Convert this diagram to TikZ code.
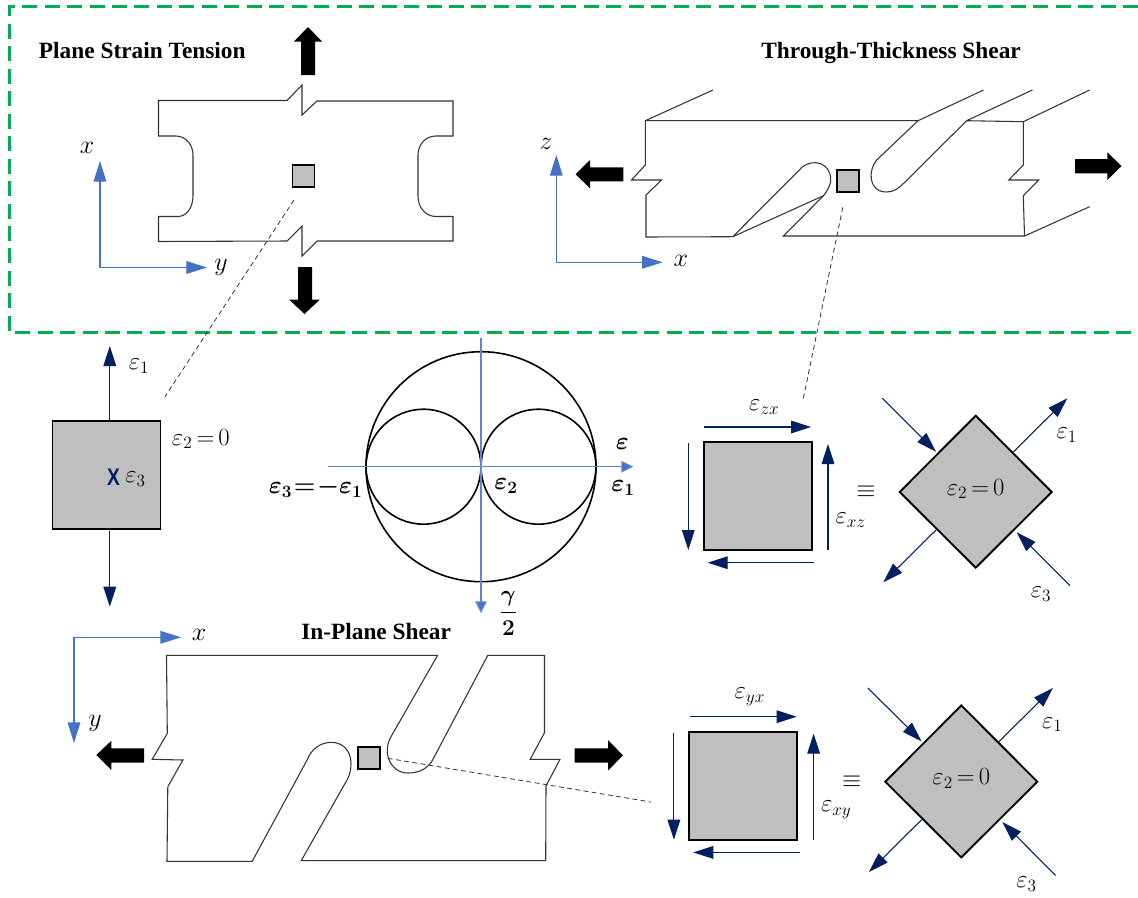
\RequirePackage{fix-cm}
\documentclass[tikz,border=0pt]{standalone}
\usepackage[no-math]{fontspec}
\usepackage{amsmath}
\setmainfont{Liberation Serif}
\newfontfamily\xsans{Liberation Sans}
\usetikzlibrary{arrows.meta}
\definecolor{grn}{HTML}{00B050}
\definecolor{axb}{HTML}{4472C4}
\definecolor{nvy}{HTML}{002060}
\definecolor{elg}{HTML}{BFBFBF}
\newcommand{\tighteq}{\mkern3mu{=}\mkern3mu}
\tikzset{
  frameline/.style={draw=grn,line width=2.25pt,dash pattern=on 11.25pt off 5.6pt},
  plate/.style={draw=black!80,line width=0.8pt,line join=miter},
  blockarrow/.style={fill=black,draw=none},
  axisarrow/.style={draw=axb,line width=0.8pt,-{Triangle[length=15.5pt,width=9.5pt,fill=axb]}},
  mohraxis/.style={draw=axb!85,line width=1pt,-{Triangle[length=9pt,width=8.5pt,fill=axb]}},
  navyarrow/.style={draw=nvy,line width=0.8pt,-{Triangle[length=15pt,width=9.5pt,fill=nvy]}},
  elem/.style={draw=black,fill=elg,line width=1.4pt,inner sep=0pt,minimum width=#1,minimum height=#1},
  rect elem/.style n args={2}{draw=black,fill=elg,line width=1.4pt,inner sep=0pt,minimum width=#1,minimum height=#2},
  tiny elem/.style={draw=black,fill=elg,line width=1.3pt,inner sep=0pt,minimum width=16.5pt,minimum height=16.5pt},
  leader/.style={draw=black!80,line width=0.6pt,dash pattern=on 3.6pt off 2.6pt},
  mohr/.style={draw=black,line width=1.2pt},
  lab/.style={font=\fontsize{18.5}{22}\selectfont,inner sep=0pt},
  axlab/.style={font=\fontsize{19.5}{23}\selectfont,inner sep=0pt},
  ttl/.style={font=\fontsize{17.5}{21}\selectfont\bfseries,inner sep=0pt,anchor=base west},
}
% strain element: square, four shear arrows, equivalence sign, rotated element
\newcommand{\shearset}[3]{%
  \node[elem=81pt] (#1sq) at (757.7,496.2) {};
  \draw[navyarrow] (704.3,427) -- (811,427);
  \draw[navyarrow] (688.3,443.3) -- (688.3,550);
  \draw[navyarrow] (828,550) -- (828,444);
  \draw[navyarrow] (814,562.7) -- (707.7,562.7);
  \node[lab] (#1top) at (764.3,407.3) {$\varepsilon_{#2}$};
  \node[lab] (#1rgt) at (850.7,520) {$\varepsilon_{#3}$};
  \node[lab] (#1eq) at (866,492) {$\equiv$};
  \draw[draw=black,fill=elg,line width=1.4pt,line join=miter] (975.7,415.7) -- (1051.7,492) -- (975.7,567.7) -- (899.7,492) -- cycle;
  \draw[navyarrow] (882.3,398.3) -- (936,451.7);
  \draw[navyarrow] (1013.3,452) -- (1067.3,398.3);
  \draw[navyarrow] (936,530) -- (883.3,582.3);
  \draw[navyarrow] (1070,585.7) -- (1016.7,532.3);
  \node[lab] (#1zero) at (975.7,489) {$\varepsilon_2\tighteq 0$};
  \node[lab] (#1one) at (1066.7,435) {$\varepsilon_1$};
  \node[lab] (#1three) at (1041,594.3) {$\varepsilon_3$};
}
\begin{document}
\begin{tikzpicture}[x=0.75pt,y=-0.75pt]
\useasboundingbox (0,0) rectangle (1138,897);
\fill[white] (0,0) rectangle (1138,897);

% frame
\draw[frameline] (1138,6.5) -- (9.5,6.5) -- (9.5,332.7) -- (1138,332.7);

% ---- Plane strain tension
\node[ttl] (t1) at (38.7,58) {Plane Strain Tension};
\draw[plate] (158.5,100.5) -- (287,100.5) -- (302,85) -- (302,115) -- (317,101) -- (453,101) -- (453,136) -- (436,136)
  .. controls (425,136) and (418,145) .. (418,155) -- (418,196)
  .. controls (418,208) and (426,216.5) .. (436,216.5) -- (453,216.5) -- (453,241) -- (317,241) -- (302,256) -- (302,226) -- (287,241) -- (158.5,241.5) -- (158.5,216.5) -- (178,216.5)
  .. controls (186,216.5) and (193,208) .. (193,196) -- (193,155)
  .. controls (193,145) and (186,136) .. (176,136) -- (158.5,136) -- cycle;
\node[tiny elem] (s1) at (303.5,176) {};
\fill[blockarrow] (308,27) -- (322,41.5) -- (315,41.5) -- (315,75) -- (301,75) -- (301,41.5) -- (294,41.5) -- cycle;
\fill[blockarrow] (304.5,314) -- (320,299.5) -- (312,299.5) -- (312,267) -- (298,267) -- (298,299.5) -- (289,299.5) -- cycle;
\coordinate (o1) at (100,267.5);
\coordinate (o1x) at (100,161);
\coordinate (o1y) at (207,267.5);
\draw[axisarrow] (o1) -- (o1x);
\draw[axisarrow] (o1) -- (o1y);
\node[axlab] (l1x) at (87,148) {$x$};
\node[axlab] (l1y) at (221,267) {$y$};

% ---- Through-thickness shear
\node[ttl] (t2) at (761,58) {Through-Thickness Shear};
\draw[plate] (645.3,120.7) -- (918,120.7) -- (876.7,160)
  .. controls (868,170) and (868,192) .. (886.6,192)
  .. controls (894,192) and (899,188) .. (904,183) -- (966.6,120.7) -- (1023.3,121.7) -- (1023.3,165) -- (1008.8,180) -- (1038.7,180) -- (1023.3,195.7) -- (1024.5,236) -- (783.3,236) -- (823.5,195.7)
  .. controls (828,190) and (832,182) .. (830.6,176.7)
  .. controls (827,158) and (806,160) .. (798.7,170.7) -- (732.8,236.7) -- (646,237) -- (646,195) -- (661.5,180) -- (631.5,180) -- (645.3,165) -- cycle;
\draw[plate] (732.8,236.7) -- (823.5,195.7);
\draw[plate] (645.3,120.7) -- (713,90);
\draw[plate] (918,120.7) -- (983.5,90);
\draw[plate] (966.6,120.7) -- (1032.4,90);
\draw[plate] (1023.3,121.7) -- (1089.6,90);
\draw[plate] (1024.5,236) -- (1089.6,206.7);
\node[tiny elem,minimum height=16.7pt] (s2) at (847.7,181) {};
\fill[blockarrow] (575.6,174.3) -- (590,160) -- (590,167.3) -- (623.3,167.3) -- (623.3,181.3) -- (590,181.3) -- (590,188.3) -- cycle;
\fill[blockarrow] (1121.5,166) -- (1107.3,152.3) -- (1107.3,159) -- (1075,159) -- (1075,173.3) -- (1107.3,173.3) -- (1107.3,180) -- cycle;
\coordinate (o2) at (556.3,262.3);
\coordinate (o2z) at (556.3,155);
\coordinate (o2x) at (662.7,262.3);
\draw[axisarrow] (o2) -- (o2z);
\draw[axisarrow] (o2) -- (o2x);
\node[axlab] (l2z) at (546,144) {$z$};
\node[axlab] (l2x) at (680.8,261) {$x$};

% ---- Uniaxial element
\node[rect elem={81pt}{80.8pt}] (e1) at (106.5,474.8) {};
\coordinate (e1up) at (109.8,346);
\coordinate (e1upb) at (109.8,421);
\coordinate (e1dn) at (109.8,606.7);
\coordinate (e1dnb) at (109.8,531);
\draw[navyarrow] (e1upb) -- (e1up);
\draw[navyarrow] (e1dnb) -- (e1dn);
\node[lab] (le1) at (139,366) {$\varepsilon_1$};
\node[lab,anchor=west] (le2) at (171.7,439) {$\varepsilon_2\tighteq 0$};
\node[inner sep=0pt,text=nvy,font=\xsans\bfseries\fontsize{18}{20}\selectfont] (lx) at (113.6,477) {\scalebox{0.8}[1]{X}};
\node[lab] (le3) at (135.5,479) {$\varepsilon_3$};

% ---- Mohr circle
\coordinate (mc) at (481,466.7);
\draw[mohr] (mc) circle[radius=86.25pt];
\draw[mohr] (423.5,466.7) circle[radius=43.1pt];
\draw[mohr] (538.5,466.7) circle[radius=43.1pt];
\coordinate (mw) at (328,466.7);
\coordinate (me) at (633.4,466.7);
\coordinate (mn) at (481,337.5);
\coordinate (ms) at (481,613.3);
\draw[mohraxis] (mw) -- (me);
\draw[mohraxis] (mn) -- (ms);
\node[lab] (mle) at (622.5,444) {$\boldsymbol{\varepsilon}$};
\node[lab] (mle1) at (623,488) {$\boldsymbol{\varepsilon_1}$};
\node[lab,anchor=east] (mle3) at (362.8,488) {$\boldsymbol{\varepsilon_3\mkern1mu{=}\mkern1mu{-}\varepsilon_1}$};
\node[lab] (mle2) at (506,485.7) {$\boldsymbol{\varepsilon_2}$};
\node[inner sep=0pt,font=\fontsize{17}{20}\selectfont] (mlg) at (508.4,613) {$\boldsymbol{\dfrac{\gamma}{2}}$};

% ---- Shear elements
\shearset{a}{zx}{xz}
\begin{scope}[shift={(-14.4,289.7)}]
\shearset{b}{yx}{xy}
\end{scope}

% ---- In-plane shear
\node[ttl] (t3) at (301,639) {In-Plane Shear};
\draw[plate] (166.5,655.3) -- (437.6,655.3) -- (391,736.7)
  .. controls (382,752) and (390,773) .. (408,773)
  .. controls (420,773) and (428,768) .. (432.6,760) -- (487.8,655.3) -- (544.5,655.3) -- (544.5,732.7) -- (530.2,759.3) -- (560,759.3) -- (546,786) -- (545.7,860.7) -- (301.2,860.7) -- (347,780)
  .. controls (350,774) and (351,770) .. (351,763.3)
  .. controls (351,750) and (342,742.3) .. (331.4,742.3)
  .. controls (320,742.3) and (311,750) .. (308,758.3) -- (252.2,861.3) -- (167,861.3) -- (167.8,786.7) -- (182.9,760) -- (152.2,759.3) -- (167.3,733.3) -- cycle;
\node[tiny elem] (s3) at (369.2,757.7) {};
\fill[blockarrow] (96.3,755) -- (111.4,740.7) -- (111.4,748.3) -- (144,748.3) -- (144,762.7) -- (111.4,762.7) -- (111.4,770) -- cycle;
\fill[blockarrow] (622.9,755.3) -- (608,740) -- (608,748.3) -- (574.7,748.3) -- (574.7,762.7) -- (608,762.7) -- (608,770.7) -- cycle;
\coordinate (o3) at (74,637.3);
\coordinate (o3x) at (181,637.3);
\coordinate (o3y) at (74,743);
\draw[axisarrow] (o3) -- (o3x);
\draw[axisarrow] (o3) -- (o3y);
\node[axlab] (l3x) at (199,635) {$x$};
\node[axlab] (l3y) at (95,723) {$y$};

% ---- Dashed leaders
\coordinate (d1a) at (294,200);
\coordinate (d1b) at (165,396.7);
\coordinate (d2a) at (842.8,207.3);
\coordinate (d2b) at (803,400);
\coordinate (d3a) at (387.8,758.3);
\coordinate (d3b) at (651,802);
\draw[leader] (d1a) -- (d1b);
\draw[leader] (d2a) -- (d2b);
\draw[leader] (d3a) -- (d3b);
\end{tikzpicture}
\end{document}
